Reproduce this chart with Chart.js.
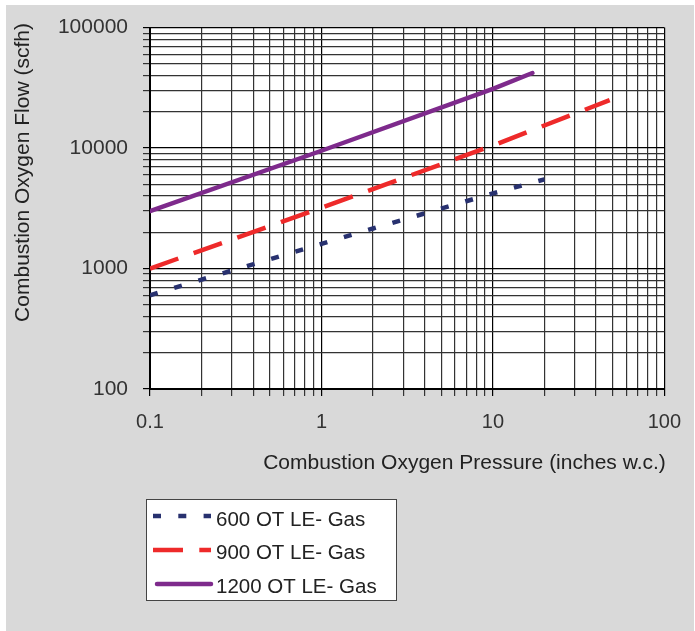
<!DOCTYPE html>
<html><head><meta charset="utf-8">
<script src="https://cdn.jsdelivr.net/npm/chart.js@4/dist/chart.umd.min.js"></script>
<style>html,body{margin:0;padding:0;background:#fff}#wrap{width:695px;height:631px;position:relative}</style>
</head><body><div id="wrap"><canvas id="c" width="695" height="631"></canvas></div>
<script>
const seriesNames = ['600 OT LE- Gas', '900 OT LE- Gas', '1200 OT LE- Gas'];
const pressure600 = [0.1, 0.2, 1, 2, 10, 20];
const flow600 = [600, 810, 1600, 2150, 4200, 5500];
const pressure900 = [0.1, 1, 10, 48];
const flow900 = [1000, 3200, 10500, 25000];
const pressure1200 = [0.1, 1, 10, 17];
const flow1200 = [3000, 9500, 31000, 42000];
const xTickLabels = ['0.1', '1', '10', '100'];
const yTickLabels = ['100', '1000', '10000', '100000'];
const xTitle = 'Combustion Oxygen Pressure (inches w.c.)';
const yTitle = 'Combustion Oxygen Flow (scfh)';

const FONT = '"Liberation Sans", Arial, sans-serif';
const colors = ['#28316f', '#ee2a2a', '#7e2a8c'];
const dashes = [[8, 17.3], [30, 16.3], []];

function logTicks(labels) {
  const dec = labels.map(Number);
  const out = [];
  for (let i = 0; i < dec.length; i++) {
    out.push(dec[i]);
    if (i < dec.length - 1) for (let k = 2; k <= 9; k++) out.push(k * dec[i]);
  }
  return out.sort((a, b) => a - b);
}
function labelFor(v, labels) {
  for (const l of labels) if (Math.abs(Number(l) - v) / Number(l) < 1e-6) return l;
  return '';
}
const xTicks = logTicks(xTickLabels);
const yTicks = logTicks(yTickLabels);

function pts(xs, ys) { return xs.map((x, i) => ({ x: x, y: ys[i] })); }

const bgPlugin = {
  id: 'bg',
  beforeDraw(chart) {
    const c = chart.ctx, a = chart.chartArea;
    c.save();
    c.fillStyle = '#ffffff';
    c.fillRect(0, 0, chart.width, chart.height);
    c.fillStyle = '#d9d9d9';
    c.fillRect(6, 5, 688, 626);
    c.fillStyle = '#ffffff';
    c.fillRect(a.left, a.top, a.right - a.left, a.bottom - a.top);
    c.restore();
  },
  afterDraw(chart) {
    const c = chart.ctx;
    c.save();
    c.fillStyle = '#222';
    c.font = '21px ' + FONT;
    c.textAlign = 'center';
    c.textBaseline = 'alphabetic';
    c.fillText(xTitle, 464.5, 469);
    c.save();
    c.translate(29, 172.5);
    c.rotate(-Math.PI / 2);
    c.fillText(yTitle, 0, 0);
    c.restore();
    // legend
    c.fillStyle = '#ffffff';
    c.fillRect(146, 499, 251, 102);
    c.strokeStyle = '#444';
    c.lineWidth = 1;
    c.strokeRect(146.5, 499.5, 250, 101);
    const sy = [516, 550, 584];
    const ty = [526, 559, 593];
    chart.data.datasets.forEach((ds, i) => {
      c.beginPath();
      c.strokeStyle = ds.borderColor;
      c.lineWidth = 4.5;
      c.setLineDash(ds.borderDash || []);
      c.lineCap = i === 2 ? 'round' : 'butt';
      c.moveTo(i === 2 ? 157 : 153, sy[i]);
      c.lineTo(211, sy[i]);
      c.stroke();
      c.setLineDash([]);
      c.fillStyle = '#222';
      c.font = '20.5px ' + FONT;
      c.textAlign = 'left';
      c.fillText(ds.label, 216, ty[i]);
    });
    c.restore();
  }
};

const gridColor = (labels) => (ctx) => {
  if (!ctx.tick) return '#000';
  return labelFor(ctx.tick.value, labels) ? '#000' : '#333';
};

new Chart(document.getElementById('c'), {
  type: 'line',
  data: {
    datasets: [
      { label: seriesNames[0], data: pts(pressure600, flow600), borderColor: colors[0], borderDash: dashes[0], borderWidth: 4.5, borderCapStyle: 'butt', pointRadius: 0, tension: 0, fill: false },
      { label: seriesNames[1], data: pts(pressure900, flow900), borderColor: colors[1], borderDash: dashes[1], borderWidth: 4.5, borderCapStyle: 'butt', pointRadius: 0, tension: 0, fill: false },
      { label: seriesNames[2], data: pts(pressure1200, flow1200), borderColor: colors[2], borderDash: dashes[2], borderWidth: 4.5, borderCapStyle: 'round', pointRadius: 0, tension: 0, fill: false }
    ]
  },
  options: {
    responsive: false,
    animation: false,
    layout: { padding: { left: 0, right: 28, top: 27, bottom: 0 } },
    plugins: { legend: { display: false }, tooltip: { enabled: false } },
    scales: {
      x: {
        type: 'logarithmic', position: 'bottom', min: 0.1, max: 100,
        afterBuildTicks: (s) => { s.ticks = xTicks.map(v => ({ value: v, major: !!labelFor(v, xTickLabels) })); },
        afterFit: (s) => { s.height = 242; },
        ticks: { autoSkip: false, maxRotation: 0, minRotation: 0, padding: 14, color: '#333', font: { family: FONT, size: 20 }, callback: (v) => labelFor(v, xTickLabels) },
        grid: { color: gridColor(xTickLabels), lineWidth: 1.2, tickLength: 7, drawTicks: true },
        border: { color: '#000', width: 2 },
        title: { display: false }
      },
      y: {
        type: 'logarithmic', position: 'left', min: 100, max: 100000,
        afterBuildTicks: (s) => { s.ticks = yTicks.map(v => ({ value: v, major: !!labelFor(v, yTickLabels) })); },
        afterFit: (s) => { s.width = 150; },
        ticks: { autoSkip: false, padding: 15, color: '#333', font: { family: FONT, size: 21 }, callback: (v) => labelFor(v, yTickLabels) },
        grid: { color: gridColor(yTickLabels), lineWidth: 1.2, tickLength: 7, drawTicks: true },
        border: { color: '#000', width: 2 },
        title: { display: false }
      }
    }
  },
  plugins: [bgPlugin]
});
</script>
</body></html>
